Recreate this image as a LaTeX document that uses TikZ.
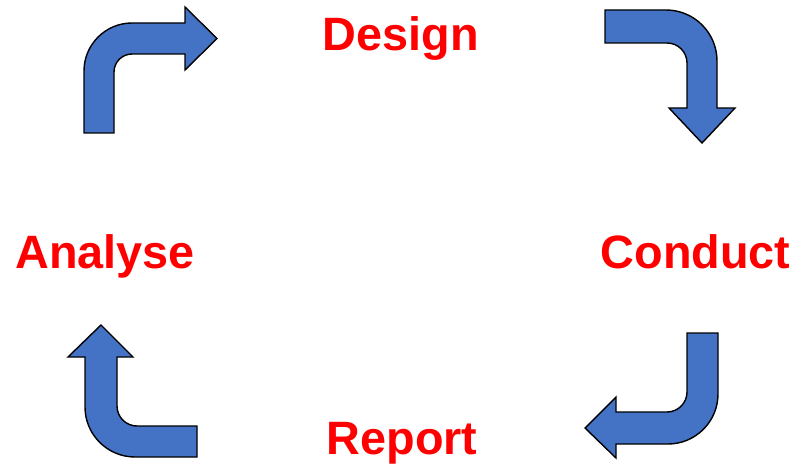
\documentclass[tikz,border=0pt]{standalone}
\usepackage{fontspec}
\setmainfont{Liberation Sans}
\definecolor{arrowblue}{RGB}{68,114,196}
\definecolor{labelred}{RGB}{255,0,0}
\begin{document}
\begin{tikzpicture}[x=1pt,y=-1pt,
  bentarrow/.style={fill=arrowblue,draw=black,line width=1.4pt,line join=miter},
  steplabel/.style={text=labelred,font=\fontsize{46.8}{50}\selectfont\bfseries,anchor=base,inner sep=0pt}]
\useasboundingbox (0,0) rectangle (797,465);
% top-left arrow
\draw[bentarrow] (84,133) -- (84,71) .. controls (84,44.5) and (105.5,23) .. (132,23)
  -- (185,23) -- (185,7) -- (217,38.5) -- (185,70) -- (185,54) -- (132,54)
  .. controls (122.1,54) and (114,62.1) .. (114,72) -- (114,133) -- cycle;
% top-right arrow
\draw[bentarrow] (605,10) -- (666,10) .. controls (694.2,10) and (717,32.8) .. (717,61)
  -- (717,108) -- (735,108) -- (702,143) -- (669,108) -- (687,108) -- (687,63)
  .. controls (687,51.95) and (678.05,43) .. (667,43) -- (605,43) -- cycle;
% bottom-right arrow
\draw[bentarrow] (718,333) -- (718,394) .. controls (718,421.6) and (695.6,444) .. (668,444)
  -- (616,444) -- (616,458) -- (585,428) -- (616,397) -- (616,412) -- (667,412)
  .. controls (678,412) and (687,403) .. (687,392) -- (687,333) -- cycle;
% bottom-left arrow
\draw[bentarrow] (101,325) -- (133,357) -- (117,357) -- (117,406)
  .. controls (117,417) and (126,426) .. (137,426) -- (197,426) -- (197,457) -- (135,457)
  .. controls (107.4,457) and (85,434.6) .. (85,407) -- (85,357) -- (68,357) -- cycle;
% labels
\node[steplabel] (design) at (401,51) {Design};
\node[steplabel] (conduct) at (695.5,268) {Conduct};
\node[steplabel] (report) at (402,454) {Report};
\node[steplabel] (analyse) at (105,268) {Analyse};
\end{tikzpicture}
\end{document}
